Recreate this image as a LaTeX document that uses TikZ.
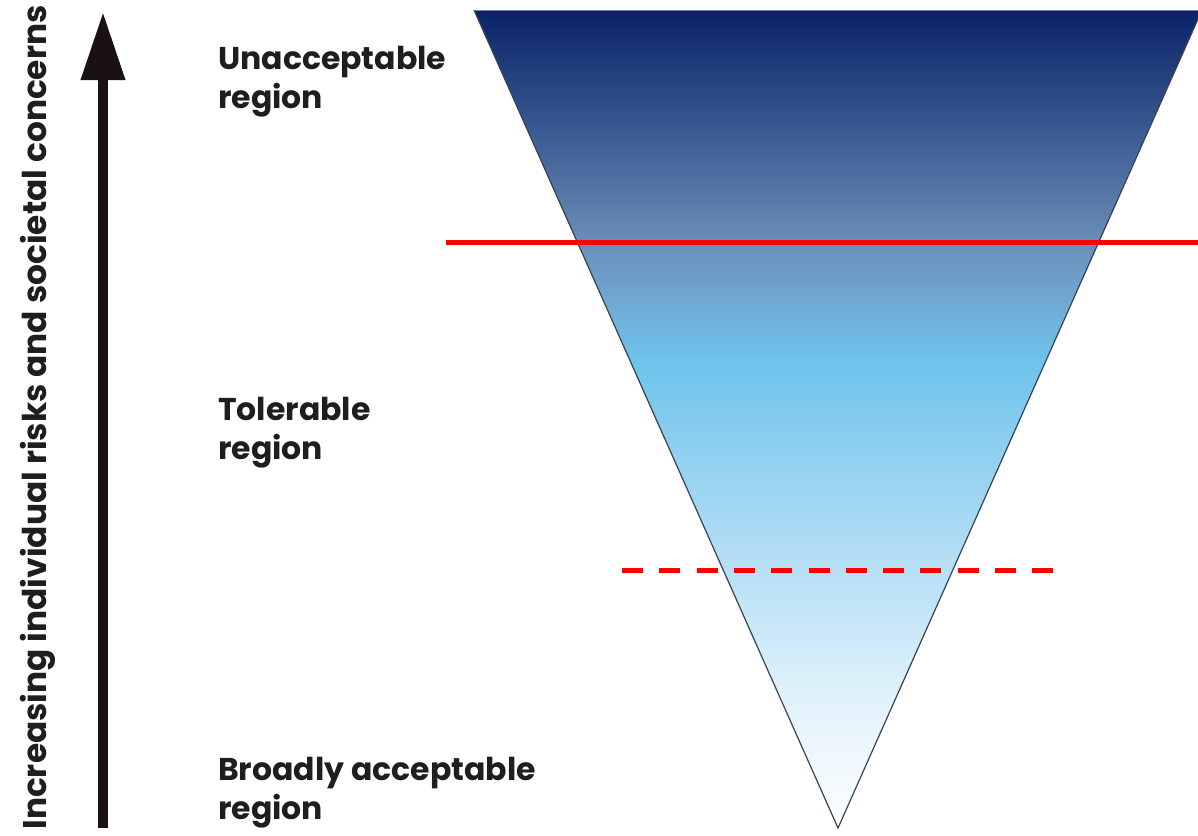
\documentclass[tikz,border=0pt]{standalone}
\usepackage{fontspec}
\setmainfont{Poppins}
\usetikzlibrary{arrows.meta}
\definecolor{navytop}{HTML}{0A2266}
\definecolor{sh1}{HTML}{3A5A92}
\definecolor{sh2}{HTML}{6A8CB6}
\definecolor{sh3}{HTML}{6FA7D2}
\definecolor{sh4}{HTML}{6EC3EC}
\definecolor{sh5}{HTML}{8FD0F0}
\definecolor{sh6}{HTML}{B8E0F5}
\definecolor{sh7}{HTML}{E0F2FB}
\definecolor{labelgray}{HTML}{1E1E1E}
\definecolor{arrowblack}{HTML}{1A1212}
\definecolor{edgegray}{HTML}{3A4150}
\pgfdeclareverticalshading{riskshade}{100bp}{color(0bp)=(white); color(25bp)=(white); color(33bp)=(sh7); color(40.75bp)=(sh6); color(48bp)=(sh5); color(53.5bp)=(sh4); color(57.5bp)=(sh3); color(61bp)=(sh2); color(67.6bp)=(sh1); color(75bp)=(navytop); color(100bp)=(navytop)}
\tikzset{
  regionlabel/.style={anchor=base west, inner sep=0pt, font=\fontsize{31.5}{39}\selectfont\bfseries, text=labelgray, align=left},
  redsolid/.style={draw=red, line width=5pt},
  reddash/.style={draw=red, line width=5pt, dash pattern=on 21pt off 16.3pt},
}
\begin{document}
\begin{tikzpicture}[x=1pt,y=-1pt]
\useasboundingbox (0,0) rectangle (1198,835);
% funnel
\begin{scope}
\clip (0,0) rectangle (1198,835);
\coordinate (tl) at (474,10);
\coordinate (tr) at (1202,10);
\coordinate (apex) at (838,828);
\path[shading=riskshade] (tl) -- (tr) -- (apex) -- cycle;
\draw[edgegray, line width=1.2pt, line join=miter] (tr) -- (apex) -- (tl);
\draw[sh2, line width=0.8pt] (tl) -- (tr);
\end{scope}
% red lines
\coordinate (s1) at (446,242);
\coordinate (s2) at (1198,242);
\draw[redsolid] (s1) -- (s2);
\coordinate (d1) at (622,570);
\coordinate (d2) at (1058,570);
\draw[reddash] (d1) -- (d2);
% arrow
\coordinate (abot) at (103,828);
\coordinate (atop) at (103,12);
\draw[arrowblack, line width=10pt, -{Triangle[length=68pt,width=42pt]}] (abot) -- (atop);
% labels (anchor at baseline of the last line)
\node[regionlabel] (unacc) at (218,108) {Unacceptable\\region};
\node[regionlabel] (toler) at (218,459) {Tolerable\\region};
\node[regionlabel] (broad) at (218,819) {Broadly acceptable\\region};
\node[rotate=90, inner sep=0pt, text=labelgray, font=\fontsize{32.8}{36}\selectfont\bfseries] (axis) at (38,417.5) {Increasing individual risks and societal concerns};
\end{tikzpicture}
\end{document}
